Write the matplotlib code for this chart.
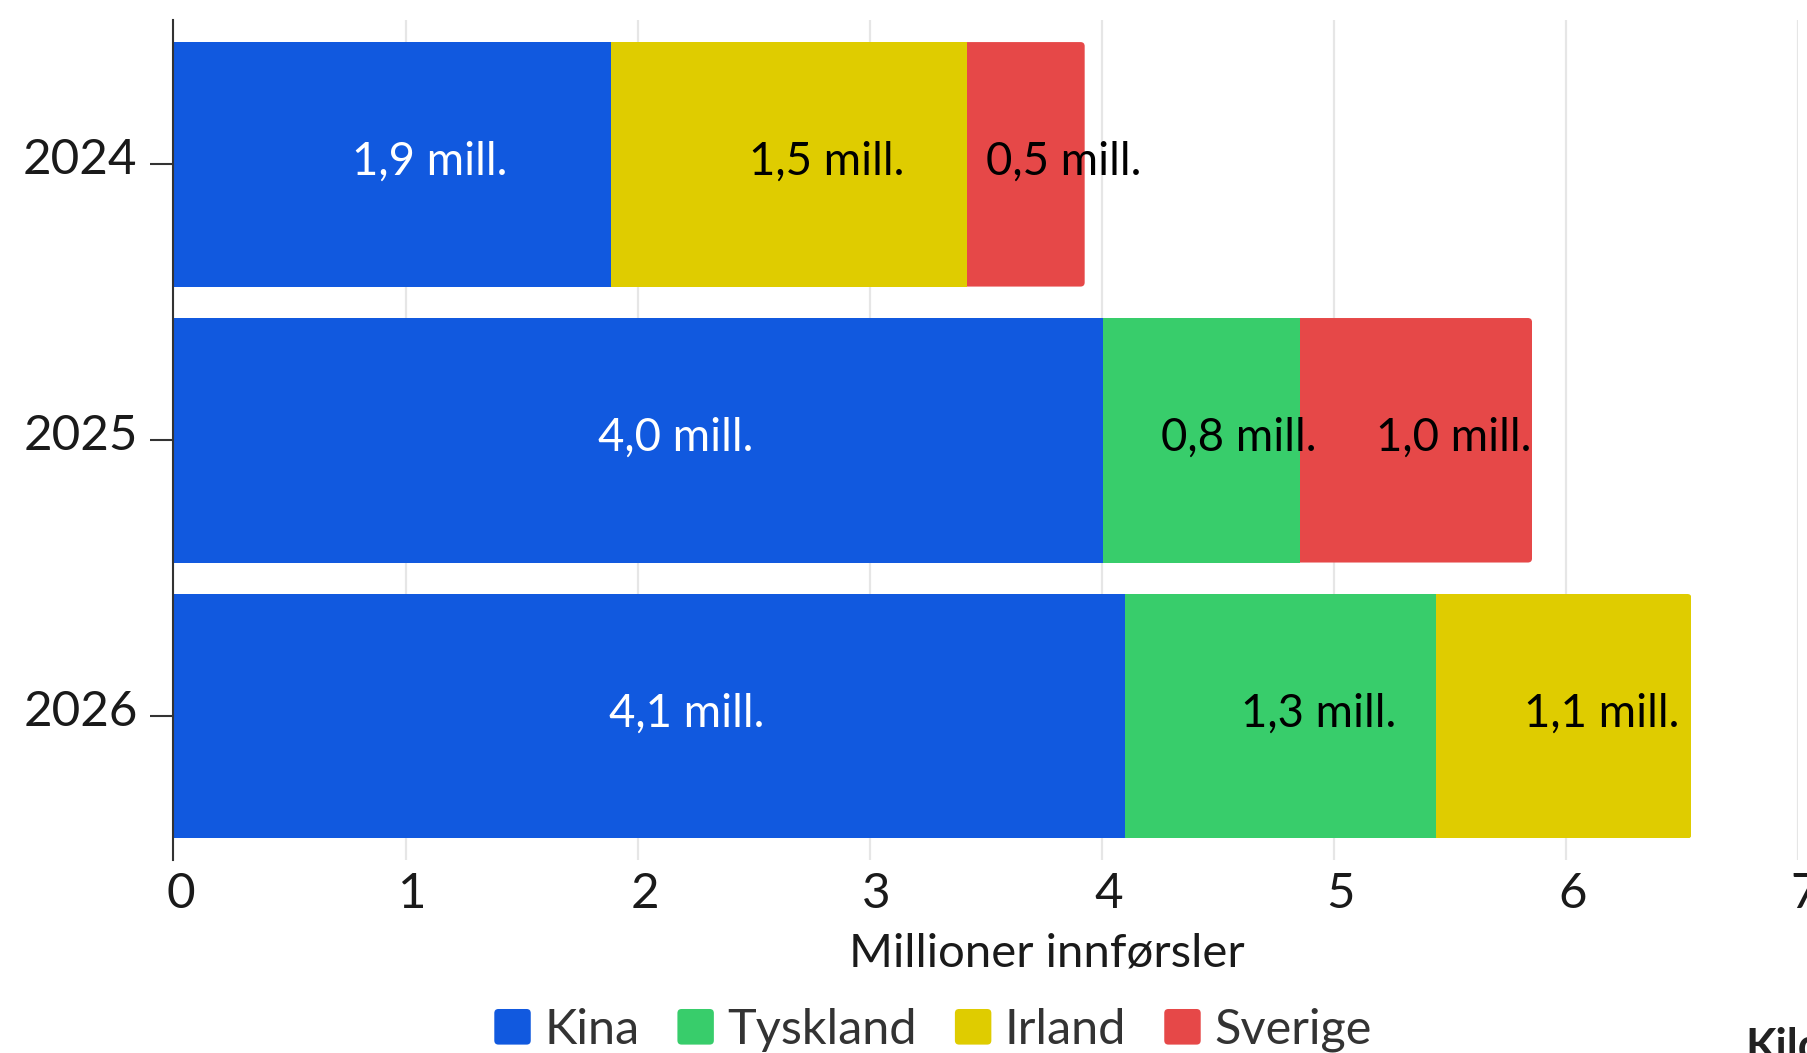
import matplotlib
matplotlib.use("Agg")
import matplotlib.pyplot as plt
import matplotlib.transforms as mtransforms
from matplotlib.patches import Patch, FancyBboxPatch
from matplotlib.legend_handler import HandlerPatch
import numpy as np

plt.rcParams['font.family'] = ['Lato', 'DejaVu Sans']

years = ["2024", "2025", "2026"]
series_names = ["Kina", "Tyskland", "Irland", "Sverige"]
kina = [1.884, 4.007, 4.102]
tyskland = [0.0, 0.849, 1.34]
irland = [1.536, 0.0, 1.10]
sverige = [0.507, 0.999, 0.0]
series_values = [kina, tyskland, irland, sverige]
colors = ["#1159df", "#38cd6b", "#dfcc00", "#e64848"]
label_colors = ["white", "black", "black", "black"]
x_ticks = [0, 1, 2, 3, 4, 5, 6, 7]
x_label = "Millioner innførsler"

W, H = 1808, 1053
fig = plt.figure(figsize=(W / 100, H / 100), dpi=100)
ax = fig.add_axes([173.5 / W, 1 - 860 / H, (1797.7 - 173.5) / W, (860 - 20) / H])

ypos = np.arange(len(years))
left = np.zeros(len(years))
bar_h = 0.886
last_patch = [None] * len(years)
for name, vals, col, lcol in zip(series_names, series_values, colors, label_colors):
    vals = np.array(vals)
    bars = ax.barh(ypos, vals, left=left, height=bar_h, color=col, linewidth=0, zorder=2)
    for i, v in enumerate(vals):
        if v > 0:
            last_patch[i] = bars.patches[i]
            txt = f"{v:.1f}".replace(".", ",") + " mill."
            ax.annotate(txt, xy=(left[i] + v / 2, ypos[i]), xytext=(27, -7.8),
                        textcoords="offset points", ha="center", va="baseline",
                        fontsize=32.8, color=lcol, zorder=3)
    left = left + vals

# round the right-hand corners of each stacked bar
for p in last_patch:
    if p is None:
        continue
    x0, y0, w, h = p.get_x(), p.get_y(), p.get_width(), p.get_height()
    clip = FancyBboxPatch((x0 - 0.5, y0), w + 0.5, h,
                          boxstyle="round,pad=0,rounding_size=0.018",
                          mutation_aspect=0.84, transform=ax.transData)
    p.set_clip_path(clip)

ax.set_xlim(0, 7)
ax.set_ylim(2.521, -0.523)
ax.set_xticks(x_ticks)
ax.set_xticklabels([str(t) for t in x_ticks])
ax.set_yticks(ypos)
ax.set_yticklabels(years)

ax.grid(axis="x", color="#e6e6e6", linewidth=1.6, zorder=0)
ax.set_axisbelow(True)
for s in ["top", "right", "bottom"]:
    ax.spines[s].set_visible(False)
ax.spines["left"].set_color("#333333")
ax.spines["left"].set_linewidth(1.5)
ax.spines["left"].set_zorder(4)

ax.tick_params(axis="x", length=0, pad=8.5, labelsize=35.5, labelcolor="#1a1a1a")
ax.tick_params(axis="y", length=16.5, width=1.5, color="#333333", pad=9.4,
               labelsize=35.5, labelcolor="#1a1a1a")

xoff = mtransforms.ScaledTranslation(7 / 100, 0, fig.dpi_scale_trans)
for lab in ax.get_xticklabels():
    lab.set_transform(lab.get_transform() + xoff)
yoff = mtransforms.ScaledTranslation(0, 8 / 100, fig.dpi_scale_trans)
for lab in ax.get_yticklabels():
    lab.set_transform(lab.get_transform() + yoff)

fig.text(1047 / W, 1 - 966.5 / H, x_label, ha="center", va="baseline",
         fontsize=34, color="#1a1a1a")


def rounded_patch(legend, orig_handle, xdescent, ydescent, width, height, fontsize):
    return FancyBboxPatch((-xdescent, -ydescent), width, height,
                          boxstyle="round,pad=0,rounding_size=3")


handles = [Patch(facecolor=c, edgecolor="none") for c in colors]
fig.legend(handles, series_names, loc="center", bbox_to_anchor=(933 / W, 1 - 1030 / H),
           ncol=4, frameon=False, fontsize=35, handlelength=0.75, handleheight=0.75,
           handletextpad=0.28, columnspacing=0.78, labelcolor="#333333",
           borderpad=0, borderaxespad=0,
           handler_map={Patch: HandlerPatch(patch_func=rounded_patch)})

fig.text(1745 / W, 1 - 1027 / H, "Kilde", ha="left", va="top", fontsize=32,
         fontweight="bold", color="#222222")

fig.savefig("out.png", dpi=100)
